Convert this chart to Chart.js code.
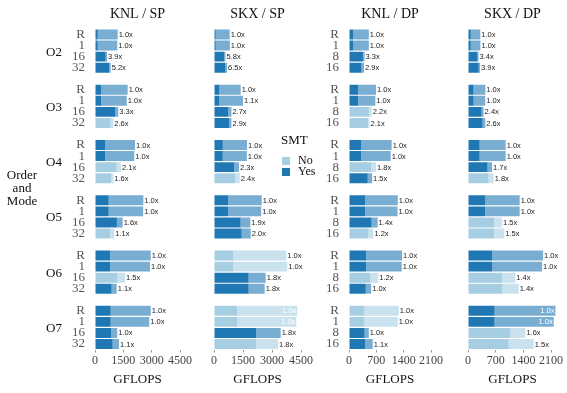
<!DOCTYPE html>
<html>
<head>
<meta charset="utf-8">
<script src="https://cdn.jsdelivr.net/npm/chart.js@4"></script>
<style>
body { margin: 0; width: 567px; height: 393px; position: relative; background: #fff; overflow: hidden; }
canvas { position: absolute; top: 0; }
</style>
</head>
<body>
<canvas id="knl-sp" width="205" height="393" style="left:0px"></canvas>
<canvas id="skx-sp" width="120" height="393" style="left:205px"></canvas>
<canvas id="knl-dp" width="120" height="393" style="left:325px"></canvas>
<canvas id="skx-dp" width="122" height="393" style="left:445px"></canvas>
<script>
const orders = ['O2', 'O3', 'O4', 'O5', 'O6', 'O7'];
const spModes = ['R', '1', '16', '32'];
const dpModes = ['R', '1', '8', '16'];

// GFLOPS: base (solid part) and total (with lighter extension), per order x mode
const knlSpBase  = [145, 145, 565, 745,   318, 318, 1060, 830,   545, 545, 1145, 870,   725, 725, 1160, 800,   795, 795, 1190, 880,   830, 830, 850, 935];
const knlSpTotal = [1200, 1180, 635, 830, 1730, 1680, 1235, 970, 2120, 2080, 1375, 970, 2560, 2550, 1465, 1020, 2950, 2910, 1590, 1150, 2950, 2870, 1180, 1270];
const knlSpSmt   = [1, 1, 1, 1,  1, 1, 1, 0,  1, 1, 0, 0,  1, 1, 1, 0,  1, 1, 0, 1,  1, 1, 1, 1];
const knlSpSpeed = [1.0, 1.0, 3.9, 5.2,  1.0, 1.0, 3.3, 2.6,  1.0, 1.0, 2.1, 1.6,  1.0, 1.0, 1.6, 1.1,  1.0, 1.0, 1.5, 1.1,  1.0, 1.0, 1.0, 1.1];

const skxSpBase  = [90, 90, 522, 585,   280, 280, 725, 780,   455, 455, 1045, 1090,   725, 725, 1375, 1430,   985, 985, 1790, 1790,   1205, 1205, 2190, 2170];
const skxSpTotal = [810, 820, 595, 672, 1380, 1500, 900, 900, 1710, 1700, 1295, 1330, 2470, 2440, 1880, 1900, 3740, 3790, 2675, 2620, 4310, 4260, 3450, 3310];
const skxSpSmt   = [1, 1, 1, 1,  1, 1, 1, 1,  1, 1, 1, 0,  1, 1, 1, 1,  0, 0, 1, 1,  0, 0, 1, 0];
const skxSpSpeed = [1.0, 1.0, 5.8, 6.5,  1.0, 1.1, 2.7, 2.9,  1.0, 1.0, 2.3, 2.4,  1.0, 1.0, 1.9, 2.0,  1.0, 1.0, 1.8, 1.8,  1.0, 1.0, 1.8, 1.8];

const knlDpBase  = [108, 108, 356, 320,   233, 233, 510, 490,   317, 317, 570, 480,   417, 417, 580, 500,   442, 442, 540, 430,   383, 383, 400, 417];
const knlDpTotal = [508, 508, 400, 383,  692, 675, 583, 525,  1092, 1067, 692, 592,  1250, 1242, 733, 625,  1358, 1350, 750, 567,  1275, 1250, 508, 608];
const knlDpSmt   = [1, 1, 1, 1,  1, 1, 0, 0,  1, 1, 0, 1,  1, 1, 1, 0,  1, 1, 0, 1,  0, 0, 1, 1];
const knlDpSpeed = [1.0, 1.0, 3.3, 2.9,  1.0, 1.0, 2.2, 2.1,  1.0, 1.0, 1.8, 1.5,  1.0, 1.0, 1.4, 1.2,  1.0, 1.0, 1.2, 1.0,  1.0, 1.0, 1.0, 1.1];

const skxDpBase  = [70, 70, 238, 270,   142, 142, 345, 370,   294, 294, 495, 520,   438, 438, 660, 660,   608, 608, 860, 860,   673, 673, 1077, 1030];
const skxDpTotal = [311, 313, 268, 303,  438, 435, 395, 438,  952, 952, 608, 648,  1306, 1306, 861, 919,  1899, 1873, 1197, 1281,  2210, 2167, 1451, 1661];
const skxDpSmt   = [1, 1, 1, 1,  1, 1, 1, 1,  1, 1, 1, 0,  1, 1, 0, 0,  1, 1, 0, 0,  1, 1, 0, 0];
const skxDpSpeed = [1.0, 1.0, 3.4, 3.9,  1.0, 1.0, 2.4, 2.6,  1.0, 1.0, 1.7, 1.8,  1.0, 1.0, 1.5, 1.5,  1.0, 1.0, 1.4, 1.4,  1.0, 1.0, 1.6, 1.5];

const spTicks = [0, 1500, 3000, 4500];
const dpTicks = [0, 700, 1400, 2100];

const yesColor = '#1f78b4';
const yesLight = '#79add2';
const noColor = '#a6cee3';
const noLight = '#cae2ee';
const serif = '"Liberation Serif", "Times New Roman", serif';

// put an empty slot between order groups
function spread(arr) {
    let out = [];
    orders.forEach((o, g) => {
        for (let k = 0; k < 4; k++) out.push(arr[g * 4 + k]);
        if (g < orders.length - 1) out.push(null);
    });
    return out;
}

const panels = [
    { id: 'knl-sp', title: 'KNL / SP', modes: spModes, base: knlSpBase, total: knlSpTotal, smt: knlSpSmt, speed: knlSpSpeed, ticks: spTicks, max: 4500, yWidth: 95, padRight: 25, showModes: true, rowLabels: true },
    { id: 'skx-sp', title: 'SKX / SP', modes: spModes, base: skxSpBase, total: skxSpTotal, smt: skxSpSmt, speed: skxSpSpeed, ticks: spTicks, max: 4500, yWidth: 9, padRight: 24, showModes: false, legend: true },
    { id: 'knl-dp', title: 'KNL / DP', modes: dpModes, base: knlDpBase, total: knlDpTotal, smt: knlDpSmt, speed: knlDpSpeed, ticks: dpTicks, max: 2100, yWidth: 24, padRight: 14, showModes: true },
    { id: 'skx-dp', title: 'SKX / DP', modes: dpModes, base: skxDpBase, total: skxDpTotal, smt: skxDpSmt, speed: skxDpSpeed, ticks: dpTicks, max: 2250, yWidth: 23, padRight: 10, showModes: false }
];

const extrasPlugin = {
    id: 'extras',
    afterDatasetsDraw(chart, args, opts) {
        const ctx = chart.ctx;
        const area = chart.chartArea;
        const p = opts.panel;
        const speeds = spread(p.speed);
        const totals = spread(p.total);
        const meta = chart.getDatasetMeta(1);
        ctx.save();
        ctx.font = '7.5px "Liberation Sans", Arial, sans-serif';
        ctx.textBaseline = 'middle';
        meta.data.forEach((bar, i) => {
            if (speeds[i] == null) return;
            let text = speeds[i].toFixed(1) + 'x';
            if (totals[i] > 0.92 * p.max) {
                ctx.fillStyle = '#ffffff';
                ctx.textAlign = 'right';
                ctx.fillText(text, bar.x - 1, bar.y + 0.5);
            } else {
                ctx.fillStyle = '#222';
                ctx.textAlign = 'left';
                ctx.fillText(text, bar.x + 1, bar.y + 0.5);
            }
        });

        // panel title
        ctx.fillStyle = '#111';
        ctx.textAlign = 'center';
        ctx.font = '14px ' + serif;
        ctx.fillText(p.title, (area.left + area.right) / 2, 14);

        ctx.font = '13px ' + serif;
        if (p.rowLabels) {
            const yScale = chart.scales.y;
            ctx.textAlign = 'right';
            orders.forEach((o, g) => {
                let yc = (yScale.getPixelForValue(g * 5) + yScale.getPixelForValue(g * 5 + 3)) / 2;
                ctx.fillText(o, 62, yc + 1);
            });
            ctx.textAlign = 'center';
            ctx.fillText('Order', 22, 176);
            ctx.fillText('and', 22, 189);
            ctx.fillText('Mode', 22, 202);
        }

        if (p.legend) {
            ctx.textAlign = 'left';
            ctx.fillText('SMT', 281 - 205, 141);
            ctx.font = '12px ' + serif;
            ctx.fillStyle = noColor;
            ctx.fillRect(282 - 205, 157, 8, 8);
            ctx.fillStyle = yesColor;
            ctx.fillRect(282 - 205, 168, 8, 8);
            ctx.fillStyle = '#111';
            ctx.fillText('No', 298 - 205, 161);
            ctx.fillText('Yes', 298 - 205, 172);
        }
        ctx.restore();
    }
};

panels.forEach(p => {
    let labels = spread(p.modes.concat(p.modes, p.modes, p.modes, p.modes, p.modes)).map(l => l == null ? '' : l);
    let base = spread(p.base);
    let total = spread(p.total);
    let smt = spread(p.smt);
    let ext = total.map((t, i) => t == null ? null : t - base[i]);

    new Chart(document.getElementById(p.id), {
        type: 'bar',
        data: {
            labels: labels,
            datasets: [{
                data: base,
                backgroundColor: smt.map(s => s ? yesColor : noColor),
                categoryPercentage: 0.9,
                barPercentage: 1.0
            }, {
                data: ext,
                backgroundColor: smt.map(s => s ? yesLight : noLight),
                categoryPercentage: 0.9,
                barPercentage: 1.0
            }]
        },
        options: {
            indexAxis: 'y',
            responsive: false,
            animation: false,
            layout: { padding: { top: 29, right: p.padRight, left: 0, bottom: 0 } },
            plugins: {
                legend: { display: false },
                tooltip: { enabled: false },
                extras: { panel: p }
            },
            scales: {
                x: {
                    stacked: true,
                    min: 0,
                    max: p.max,
                    afterBuildTicks: scale => { scale.ticks = p.ticks.map(v => ({ value: v })); },
                    afterFit: scale => { scale.height = 43.5; },
                    grid: { drawOnChartArea: false, drawTicks: true, tickLength: 3, color: '#999' },
                    border: { display: false },
                    ticks: { padding: 1, autoSkip: false, color: '#444', font: { family: serif, size: 12 }, maxRotation: 0, callback: v => String(v) },
                    title: { display: true, text: 'GFLOPS', color: '#111', font: { family: serif, size: 13 }, padding: { top: 0, bottom: 6 } }
                },
                y: {
                    stacked: true,
                    afterFit: scale => { scale.width = p.yWidth; },
                    grid: { display: false, drawTicks: false },
                    border: { display: false },
                    ticks: { display: p.showModes, autoSkip: false, padding: 10, color: '#555', font: { family: serif, size: 13 } }
                }
            }
        },
        plugins: [extrasPlugin]
    });
});
</script>
</body>
</html>
